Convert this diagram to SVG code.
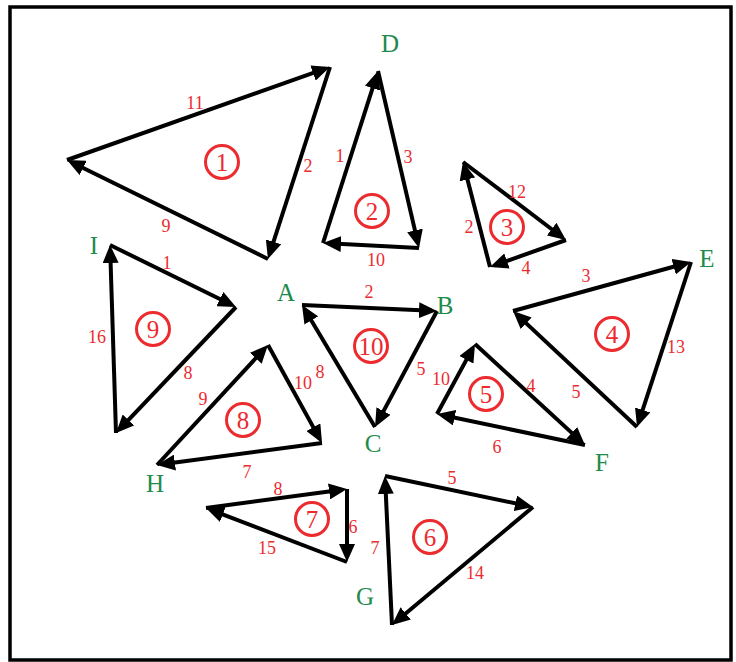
<svg xmlns="http://www.w3.org/2000/svg" width="736" height="662" viewBox="0 0 736 662">
<style>
.e{stroke:#000;stroke-width:4;fill:none;marker-end:url(#ah)}
.v{font-family:"Liberation Serif",serif;font-size:25px;fill:#1e8b4c;text-anchor:middle;dominant-baseline:central}
.w{font-family:"Liberation Serif",serif;font-size:18px;fill:#ec2b2f;text-anchor:middle;dominant-baseline:central}
.n{font-family:"Liberation Serif",serif;font-size:25px;fill:#ec2b2f;text-anchor:middle;dominant-baseline:central}
.c{fill:none;stroke:#ec2b2f;stroke-width:3}
</style>
<defs>
<marker id="ah" viewBox="0 0 18 16" refX="13" refY="8" markerWidth="18" markerHeight="16" markerUnits="userSpaceOnUse" orient="auto">
<path d="M0,0 L18,8 L0,16 z" fill="#000"/>
</marker>
</defs>
<rect x="0" y="0" width="736" height="662" fill="#fff"/>
<rect x="10" y="7" width="721" height="653" fill="none" stroke="#000" stroke-width="3.5"/>
<g id="connectors">
<path class="e" d="M67,160 L325.3,68.7"/>
<path class="e" d="M330,67 L269.5,254.2"/>
<path class="e" d="M268,259 L71.5,162.2"/>
<path class="e" d="M323,243 L376.5,75.8"/>
<path class="e" d="M378,71 L417.9,243.1"/>
<path class="e" d="M419,248 L328,243.3"/>
<path class="e" d="M490,267 L464.2,166.8"/>
<path class="e" d="M463,162 L562,237"/>
<path class="e" d="M566,240 L494.7,265.3"/>
<path class="e" d="M513,311 L686.2,263.3"/>
<path class="e" d="M691,262 L638.6,422.3"/>
<path class="e" d="M637,427 L516.7,314.4"/>
<path class="e" d="M437,414 L472.6,348.4"/>
<path class="e" d="M475,344 L581.3,441.6"/>
<path class="e" d="M585,445 L441.9,415"/>
<path class="e" d="M392,625 L385.2,481"/>
<path class="e" d="M385,476 L528.1,506"/>
<path class="e" d="M533,507 L395.8,621.8"/>
<path class="e" d="M206,508 L342,489.7"/>
<path class="e" d="M347,489 L347,557"/>
<path class="e" d="M347,562 L210.7,509.8"/>
<path class="e" d="M157,465 L264.6,348.7"/>
<path class="e" d="M268,345 L319.6,438.6"/>
<path class="e" d="M322,443 L162,464.3"/>
<path class="e" d="M110,245 L231.5,304.8"/>
<path class="e" d="M236,307 L119.5,429.4"/>
<path class="e" d="M116,433 L110.2,250"/>
<path class="e" d="M302,305 L432,310.8"/>
<path class="e" d="M437,311 L377.4,422.6"/>
<path class="e" d="M375,427 L304.6,309.3"/>
</g>
<g id="vertex-labels">
<text class="v" x="390" y="43">D</text>
<text class="v" x="707" y="258">E</text>
<text class="v" x="602" y="462">F</text>
<text class="v" x="94" y="245">I</text>
<text class="v" x="286" y="292">A</text>
<text class="v" x="445" y="305">B</text>
<text class="v" x="373" y="443">C</text>
<text class="v" x="155" y="483">H</text>
<text class="v" x="365" y="596">G</text>
</g>
<g id="t1"><circle class="c" cx="222" cy="162" r="16.5"/><text class="n" x="222" y="162">1</text>
<text class="w" x="195" y="103">11</text><text class="w" x="308" y="166">2</text><text class="w" x="166" y="226">9</text></g>
<g id="t2"><circle class="c" cx="372" cy="211" r="16.5"/><text class="n" x="372" y="211">2</text>
<text class="w" x="340" y="156">1</text><text class="w" x="408" y="157">3</text><text class="w" x="376" y="260">10</text></g>
<g id="t3"><circle class="c" cx="507" cy="227" r="16.5"/><text class="n" x="507" y="227">3</text>
<text class="w" x="517" y="192">12</text><text class="w" x="469" y="227">2</text><text class="w" x="526" y="268">4</text></g>
<g id="t4"><circle class="c" cx="612" cy="334" r="16.5"/><text class="n" x="612" y="334">4</text>
<text class="w" x="586" y="276">3</text><text class="w" x="676" y="347">13</text><text class="w" x="576" y="392">5</text></g>
<g id="t5"><circle class="c" cx="486" cy="394" r="16.5"/><text class="n" x="486" y="394">5</text>
<text class="w" x="441" y="379">10</text><text class="w" x="531" y="386">4</text><text class="w" x="497" y="447">6</text></g>
<g id="t6"><circle class="c" cx="430" cy="537" r="16.5"/><text class="n" x="430" y="537">6</text>
<text class="w" x="452" y="478">5</text><text class="w" x="375" y="548">7</text><text class="w" x="475" y="573">14</text></g>
<g id="t7"><circle class="c" cx="312" cy="519" r="16.5"/><text class="n" x="312" y="519">7</text>
<text class="w" x="278" y="489">8</text><text class="w" x="353" y="527">6</text><text class="w" x="267" y="548">15</text></g>
<g id="t8"><circle class="c" cx="243" cy="420" r="16.5"/><text class="n" x="243" y="420">8</text>
<text class="w" x="203" y="399">9</text><text class="w" x="303" y="383">10</text><text class="w" x="247" y="472">7</text></g>
<g id="t9"><circle class="c" cx="153" cy="329" r="16.5"/><text class="n" x="153" y="329">9</text>
<text class="w" x="167" y="263">1</text><text class="w" x="97" y="337">16</text><text class="w" x="188" y="373">8</text></g>
<g id="t10"><circle class="c" cx="371" cy="346" r="16.5"/><text class="n" x="371" y="346">10</text>
<text class="w" x="369" y="292">2</text><text class="w" x="421" y="369">5</text><text class="w" x="320" y="372">8</text></g>
</svg>
